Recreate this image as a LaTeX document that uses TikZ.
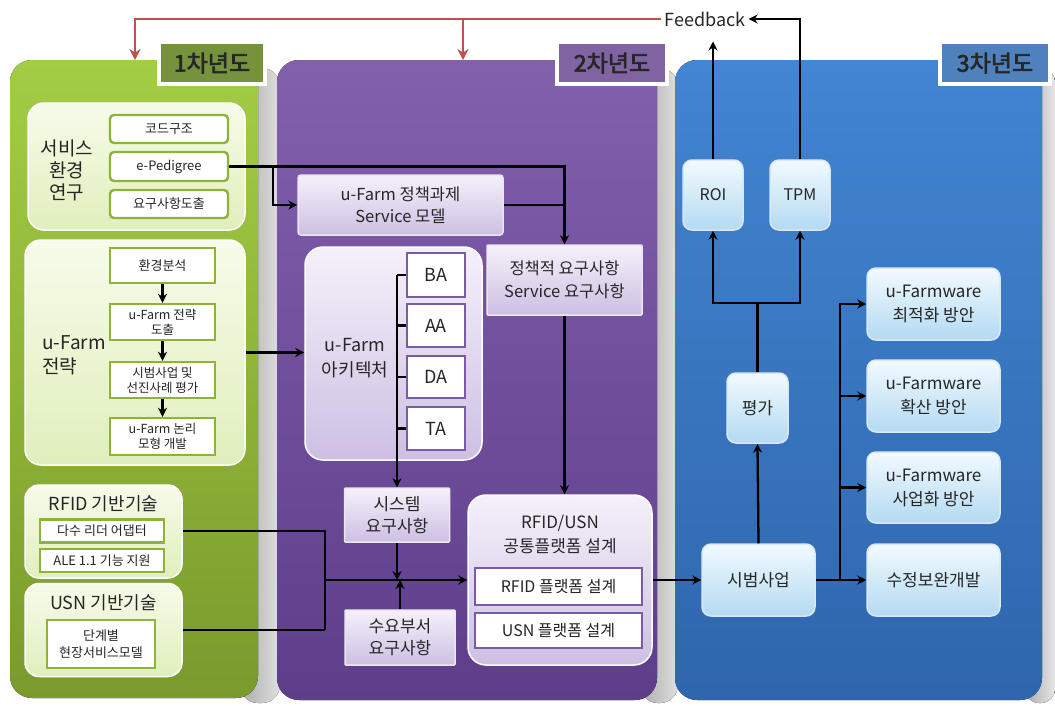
\documentclass[tikz,border=0pt]{standalone}
\usepackage{fontspec}
\setmainfont{Noto Sans CJK KR}[AutoFakeBold=3]
\usetikzlibrary{arrows.meta}
\definecolor{tc}{HTML}{262626}
\definecolor{gtop}{HTML}{A3CD45}
\definecolor{gbot}{HTML}{7A9A2C}
\definecolor{ptop}{HTML}{8260AC}
\definecolor{pbot}{HTML}{5E3D8B}
\definecolor{btop}{HTML}{4285D2}
\definecolor{bbot}{HTML}{2F66AD}
\definecolor{gborder}{HTML}{8DB33A}
\definecolor{pborder}{HTML}{7A5CA6}
\definecolor{gltop}{HTML}{F7FBEA}
\definecolor{glbot}{HTML}{E0EFBC}
\definecolor{pltop}{HTML}{F5F1FA}
\definecolor{plbot}{HTML}{CDBFE3}
\definecolor{bltop}{HTML}{F2FAFF}
\definecolor{blbot}{HTML}{B3DAF2}
\definecolor{tgreen}{HTML}{76923C}
\definecolor{tpurple}{HTML}{8064A2}
\definecolor{tblue}{HTML}{4F81BD}
\definecolor{fbred}{HTML}{C0504D}
\newcommand{\fs}[2]{\fontsize{#1}{#2}\selectfont}
\begin{document}
\begin{tikzpicture}[x=1pt,y=-1pt,
  txt/.style={text=tc, align=center, inner sep=0pt},
  grp/.style={draw=white, line width=1.5pt, top color=gltop, bottom color=glbot, rounded corners=16pt, inner sep=0pt},
  gbox/.style={draw=gborder, line width=2.4pt, fill=white, text=tc, align=center, inner sep=0pt},
  pgrp/.style={draw=white, line width=1.5pt, top color=pltop, bottom color=plbot, rounded corners=18pt, inner sep=0pt},
  pbox/.style={draw=pborder, line width=2.2pt, fill=white, text=tc, align=center, inner sep=0pt},
  lpbox/.style={draw=white!85!pborder, line width=1.5pt, top color=pltop, bottom color=plbot, text=tc, align=center, inner sep=0pt, rounded corners=3pt},
  lbbox/.style={draw=white!80!btop, line width=1.5pt, top color=bltop, bottom color=blbot, text=tc, align=center, inner sep=0pt, rounded corners=9pt},
  conn/.style={line width=2.3pt, black},
  arr/.style={conn, -{Stealth[length=9pt,width=9pt]}},
  redarr/.style={line width=2.3pt, fbred, -{Stealth[length=11pt,width=11pt]}},
  titlebox/.style={draw=white, line width=4pt, text=tc, font=\bfseries\fs{23}{26}, inner sep=0pt}
]
\useasboundingbox (0,0) rectangle (1055,705);
\fill[white] (0,0) rectangle (1055,705);

% shadows of columns
\fill[left color=gray!65, right color=gray!25, rounded corners=18pt] (240,68) rectangle (280,703);
\fill[left color=gray!65, right color=gray!25, rounded corners=18pt] (640,68) rectangle (678,703);
\fill[left color=gray!65, right color=gray!20, rounded corners=14pt] (1025,68) rectangle (1055,703);

% columns
\fill[top color=gtop, bottom color=gbot, rounded corners=22pt] (10,60) rectangle (258,698);
\fill[top color=ptop, bottom color=pbot, rounded corners=22pt] (277,60) rectangle (657,700);
\fill[top color=btop, bottom color=bbot, rounded corners=22pt] (675,60) rectangle (1042,700);

% title boxes
\node[titlebox, fill=tgreen, minimum width=106pt, minimum height=42pt] (t1) at (212,63) {1차년도};
\node[titlebox, fill=tpurple, minimum width=110pt, minimum height=42pt] (t2) at (612,63) {2차년도};
\node[titlebox, fill=tblue, minimum width=110pt, minimum height=42pt] (t3) at (995,63) {3차년도};

% feedback
\node[txt, font=\fs{18}{20}, inner sep=3pt] (fb) at (705,19) {Feedback};
\coordinate (g1) at (135,60);
\coordinate (p1) at (463,60);
\draw[redarr] (fb.west) -| (g1);
\draw[redarr] (p1 |- fb.west) -- (p1);

% ===== Year 1 =====
\node[grp, minimum width=217pt, minimum height=127pt] (svc) at (136.5,166.5) {};
\node[txt, font=\fs{19}{22}] (svcl) at (67,170) {서비스\\환경\\연구};
\node[gbox, rounded corners=4pt, minimum width=118pt, minimum height=28pt, font=\fs{13}{15}] (cd) at (169,129) {코드구조};
\node[gbox, rounded corners=4pt, minimum width=118pt, minimum height=29pt, font=\fs{13}{15}] (ep) at (169,166.5) {e-Pedigree};
\node[gbox, rounded corners=4pt, minimum width=118pt, minimum height=28pt, font=\fs{13}{15}] (rq) at (169,204) {요구사항도출};

\node[grp, minimum width=220pt, minimum height=225pt] (uf) at (135,352.5) {};
\node[txt, font=\fs{19}{24}, align=left, anchor=west] (ufl) at (42,355) {u-Farm\\전략};
\node[gbox, minimum width=105pt, minimum height=35pt, font=\fs{13}{15}] (env) at (162.5,265.5) {환경분석};
\node[gbox, minimum width=105pt, minimum height=36pt, font=\fs{12.5}{15}] (str) at (162.5,322) {u-Farm 전략\\도출};
\node[gbox, minimum width=105pt, minimum height=36pt, font=\fs{12.5}{15}] (pil) at (162.5,380) {시범사업 및\\선진사례 평가};
\node[gbox, minimum width=105pt, minimum height=37pt, font=\fs{12.5}{15}] (log) at (162.5,436.5) {u-Farm 논리\\모형 개발};
\draw[arr] (env.south) -- (str.north);
\draw[arr] (str.south) -- (pil.north);
\draw[arr] (pil.south) -- (log.north);

\node[grp, rounded corners=14pt, minimum width=157pt, minimum height=93pt] (rfidg) at (103.5,531.5) {};
\node[txt, font=\fs{18}{20}] (rfidl) at (103.5,504) {RFID 기반기술};
\node[gbox, minimum width=124pt, minimum height=23pt, font=\fs{13}{15}] (multi) at (102,531) {다수 리더 어댑터};
\node[gbox, minimum width=124pt, minimum height=23pt, font=\fs{13}{15}] (ale) at (102,560.5) {ALE 1.1 기능 지원};

\node[grp, rounded corners=14pt, minimum width=157pt, minimum height=93pt] (usng) at (103.5,630) {};
\node[txt, font=\fs{18}{20}] (usnl) at (103.5,603) {USN 기반기술};
\node[gbox, minimum width=108pt, minimum height=48pt, font=\fs{13}{17}] (stp) at (101,644) {단계별\\현장서비스모델};

% ===== Year 2 =====
\node[lpbox, minimum width=205pt, minimum height=60pt, font=\fs{16.5}{22}] (pol) at (400.5,205) {u-Farm 정책과제\\Service 모델};
\node[lpbox, rounded corners=1pt, minimum width=155pt, minimum height=70pt, font=\fs{16.5}{23}] (req) at (564.5,280) {정책적 요구사항\\Service 요구사항};

\node[pgrp, minimum width=177pt, minimum height=213pt] (arch) at (393.5,353.5) {};
\node[txt, font=\fs{18}{25}] (archl) at (355,358) {u-Farm\\아키텍처};
\node[pbox, minimum width=58pt, minimum height=44pt, font=\fs{18}{20}] (BA) at (436,275) {BA};
\node[pbox, minimum width=58pt, minimum height=43pt, font=\fs{18}{20}] (AA) at (436,325.5) {AA};
\node[pbox, minimum width=58pt, minimum height=42pt, font=\fs{18}{20}] (DA) at (436,377) {DA};
\node[pbox, minimum width=58pt, minimum height=43pt, font=\fs{18}{20}] (TA) at (436,428.5) {TA};

\node[lpbox, rounded corners=1pt, minimum width=105pt, minimum height=54pt, font=\fs{17}{22}] (sys) at (397,515) {시스템\\요구사항};
\node[lpbox, rounded corners=1pt, minimum width=110pt, minimum height=55pt, font=\fs{17}{22}] (dem) at (400,637.5) {수요부서\\요구사항};

\node[pgrp, minimum width=184pt, minimum height=170pt] (plat) at (560,580) {};
\node[txt, font=\fs{17}{24}] (platl) at (560,534) {RFID/USN\\공통플랫폼 설계};
\node[pbox, minimum width=167pt, minimum height=37pt, font=\fs{16}{18}] (rpl) at (558.5,586.5) {RFID 플랫폼 설계};
\node[pbox, minimum width=167pt, minimum height=35pt, font=\fs{16}{18}] (upl) at (558.5,630.5) {USN 플랫폼 설계};

% connectors year 1 -> 2
\coordinate (j1) at (273,166.5);
\draw[arr] (ep.east) -| (req.north);
\draw[arr] (j1) |- (pol.west);
\draw[conn] (pol.east) -- (pol.east -| req.north);
\draw[arr] (uf.east) -- (uf.east -| arch.west);

\coordinate (bt) at (397,275);
\draw[conn] (BA.west) -- (bt);
\draw[conn] (AA.west) -- (AA.west -| bt);
\draw[conn] (DA.west) -- (DA.west -| bt);
\draw[conn] (TA.west) -- (TA.west -| bt);
\draw[arr] (bt) -- (bt |- sys.north);
\draw[arr] (req.south) -- (req.south |- plat.north);

\coordinate (m1) at (325,531);
\coordinate (m2) at (325,630);
\coordinate (jm) at (325,580);
\draw[conn] (rfidg.east |- m1) -- (m1) -- (m2);
\draw[conn] (usng.east |- m2) -- (m2);
\draw[arr] (jm) -- (jm -| plat.west);
\draw[arr] (sys.south) -- (sys.south |- jm);
\draw[arr] (dem.north) -- (dem.north |- jm);

% ===== Year 3 =====
\node[lbbox, minimum width=60pt, minimum height=70pt, font=\fs{16}{18}] (roi) at (713,195) {ROI};
\node[lbbox, minimum width=60pt, minimum height=70pt, font=\fs{16}{18}] (tpm) at (800,195) {TPM};
\node[lbbox, minimum width=61pt, minimum height=70pt, font=\fs{17}{20}] (eval) at (757.5,408) {평가};
\node[lbbox, minimum width=113pt, minimum height=72pt, font=\fs{17}{20}] (pil2) at (758.5,580) {시범사업};
\node[lbbox, minimum width=133pt, minimum height=72pt, font=\fs{17}{24}] (opt) at (933.5,304) {u-Farmware\\최적화 방안};
\node[lbbox, minimum width=133pt, minimum height=72pt, font=\fs{17}{24}] (spr) at (933.5,396) {u-Farmware\\확산 방안};
\node[lbbox, minimum width=133pt, minimum height=71pt, font=\fs{17}{24}] (biz) at (933.5,487.5) {u-Farmware\\사업화 방안};
\node[lbbox, minimum width=133pt, minimum height=72pt, font=\fs{17}{20}] (fix) at (933.5,580) {수정보완개발};

\draw[arr] (plat.east) -- (pil2.west);
\draw[arr] (pil2.north) -- (eval.south);
\coordinate (e1) at (757.5,303);
\draw[conn] (eval.north) -- (e1);
\draw[arr] (e1) -| (roi.south);
\draw[arr] (e1) -| (tpm.south);
\draw[arr, shorten >=12pt] (roi.north) -- (roi.north |- fb.south);
\draw[arr] (tpm.north) |- (fb.east);

\coordinate (bb) at (840,580);
\draw[arr] (pil2.east) -- (fix.west);
\draw[arr] (bb) |- (opt.west);
\draw[arr] (bb) |- (spr.west);
\draw[arr] (bb) |- (biz.west);
\end{tikzpicture}
\end{document}
